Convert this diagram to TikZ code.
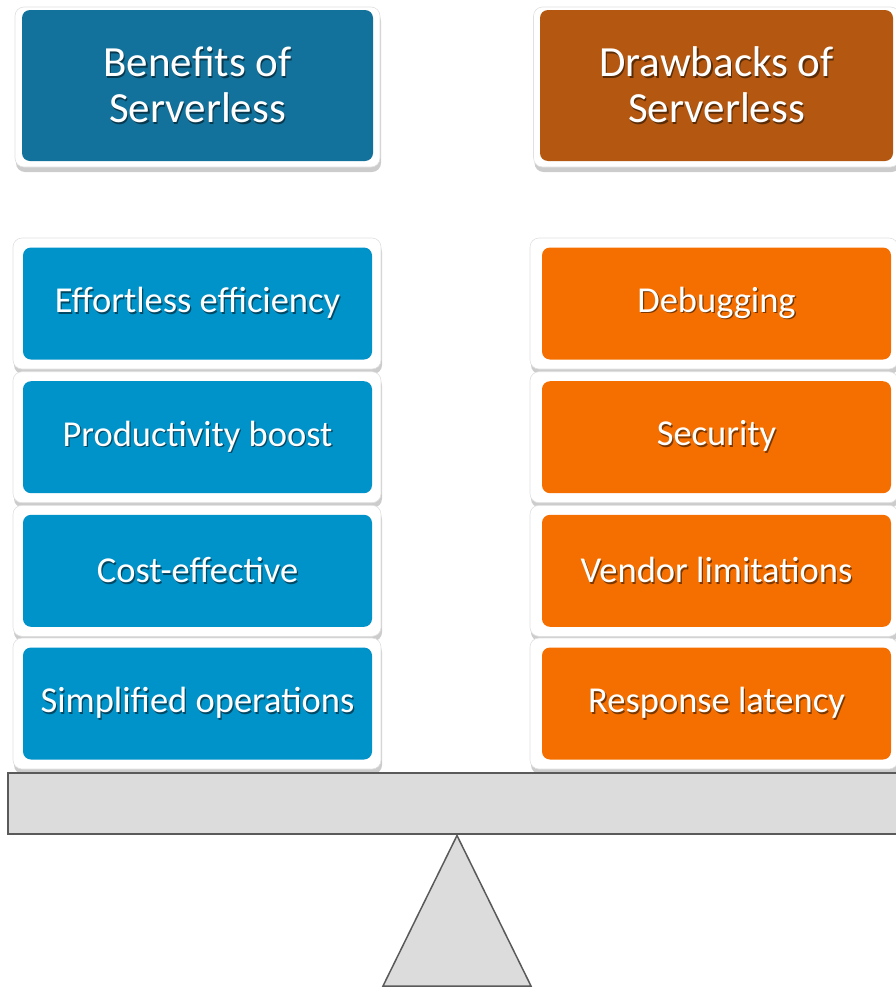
\documentclass[tikz,border=0pt]{standalone}
\usepackage{fontspec}
\setmainfont{Carlito}
\usetikzlibrary{shadows}
\definecolor{hdrblue}{HTML}{13729C}
\definecolor{hdrorange}{HTML}{B45811}
\definecolor{itemblue}{HTML}{0093CA}
\definecolor{itemorange}{HTML}{F56F00}
\definecolor{beamfill}{HTML}{DCDCDC}
\definecolor{beamline}{HTML}{5A5A5A}
\definecolor{shcol}{HTML}{000000}
\newcommand\shtx[1]{\leavevmode\rlap{\hspace{1.3pt}\raisebox{-1.8pt}{\textcolor{shcol}{#1}}}#1}
\tikzset{
  frame/.style={rounded corners=9pt, fill=white, draw=black!12, line width=0.6pt,
    drop shadow={shadow xshift=1pt, shadow yshift=-5pt, opacity=0.2, fill=black}},
  content/.style={rounded corners=8pt, text=white, inner sep=0pt, align=center},
  hdr/.style={content, minimum width=351pt, minimum height=151pt,
    font=\fontsize{43}{46}\selectfont},
  itm/.style={content, minimum width=349pt, minimum height=112pt,
    font=\fontsize{36.5}{40}\selectfont},
  blueshade/.style={execute at begin node={\colorlet{shcol}{black!50!#1}}},
}
\begin{document}
\begin{tikzpicture}[x=1pt,y=-1pt]
\useasboundingbox (0,0) rectangle (896,988);
% headers
\node[frame, minimum width=365pt, minimum height=160pt] (hlf) at (197.5,87) {};
\node[hdr, fill=hdrblue, blueshade=hdrblue] (hl) at (197.5,85.5) {\shtx{Benefits of}\\\shtx{Serverless}};
\node[frame, minimum width=366pt, minimum height=160pt] (hrf) at (716.5,87) {};
\node[hdr, fill=hdrorange, minimum width=353pt, blueshade=hdrorange] (hr) at (716.5,85.5) {\shtx{Drawbacks of}\\\shtx{Serverless}};
% items
\foreach \i/\y/\lt/\rt in {1/303.5/Effortless efficiency/Debugging,
                           2/437.2/Productivity boost/Security,
                           3/570.8/Cost-effective/Vendor limitations,
                           4/703.5/Simplified operations/Response latency}{
  \node[frame, minimum width=368pt, minimum height=131pt] (lf\i) at (197,\y) {};
  \node[itm, fill=itemblue, blueshade=itemblue] (l\i) at (197.5,\y) {\shtx{\lt}};
  \node[frame, minimum width=368pt, minimum height=131pt] (rf\i) at (714,\y) {};
  \node[itm, fill=itemorange, blueshade=itemorange] (r\i) at (716.5,\y) {\shtx{\rt}};
}
% beam and fulcrum
\draw[fill=beamfill, draw=beamline, line width=1.5pt] (8,773) rectangle (904,834);
\draw[fill=beamfill, draw=beamline, line width=1.5pt, line join=miter] (457,835.5) -- (531,986) -- (383,986) -- cycle;
\end{tikzpicture}
\end{document}
